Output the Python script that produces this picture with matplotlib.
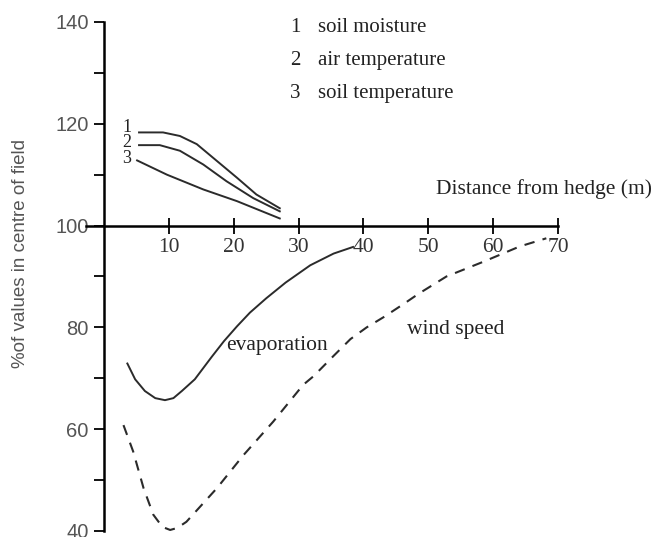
import matplotlib
matplotlib.use("Agg")
import matplotlib.pyplot as plt

# values
soil_moisture_x = [5.4, 9.1, 11.7, 14.3, 17.4, 20.5, 23.5, 27.1]
soil_moisture_y = [118.3, 118.3, 117.6, 116.0, 112.7, 109.4, 106.1, 103.4]
air_temp_x = [5.4, 8.6, 11.7, 15.3, 18.9, 23.0, 27.1]
air_temp_y = [115.8, 115.8, 114.7, 112.0, 108.7, 105.4, 102.8]
soil_temp_x = [5.1, 9.7, 15.3, 20.5, 27.1]
soil_temp_y = [112.8, 110.0, 107.1, 104.8, 101.4]

evap_x = [3.6, 4.8, 6.3, 7.9, 9.4, 10.7, 12.0, 14.0, 16.6, 18.5, 20.5, 22.5,
          25.0, 28.0, 31.8, 35.4, 38.4]
evap_y = [72.9, 69.8, 67.5, 66.1, 65.7, 66.1, 67.5, 69.8, 74.2, 77.3, 80.2, 82.9,
          85.7, 88.8, 92.2, 94.5, 95.8]

wind_x = [3.0, 4.5, 6.1, 7.6, 9.0, 10.2, 11.3, 12.7, 17.4, 21.5, 26.1, 30.7,
          32.3, 35.4, 38.0, 40.5, 43.1, 46.2, 48.5, 52.8, 58.5, 64.1, 68.2]
wind_y = [60.8, 55.6, 48.4, 43.2, 40.8, 40.2, 40.6, 41.8, 48.4, 54.9, 61.5, 68.7,
          70.4, 74.4, 77.7, 80.0, 82.0, 84.6, 86.6, 90.0, 92.9, 95.9, 97.5]

x_ticks = [10, 20, 30, 40, 50, 60, 70]
y_major = [40, 60, 80, 100, 120, 140]
y_minor = [50, 70, 90, 110, 130]

legend_nums = ["1", "2", "3"]
legend_names = ["soil moisture", "air temperature", "soil temperature"]
legend_y = [139.0, 132.5, 125.9]

serif = "Liberation Serif"
sans = "Liberation Sans"
line_col = "#2b2b2b"
text_col = "#222222"

fig = plt.figure(figsize=(6.55, 5.37), dpi=100)
ax = fig.add_axes([0.1588, 0.0112, 0.6931, 0.9479])
ax.set_xlim(0, 70)
ax.set_ylim(40, 140)

ax.plot(soil_moisture_x, soil_moisture_y, color=line_col, lw=1.4)
ax.plot(air_temp_x, air_temp_y, color=line_col, lw=1.4)
ax.plot(soil_temp_x, soil_temp_y, color=line_col, lw=1.4)
ax.plot(evap_x, evap_y, color=line_col, lw=1.4)
ax.plot(wind_x, wind_y, color=line_col, lw=1.5, linestyle=(0, (5, 4)))

# axes: left spine, x axis across y = 100
for s in ["top", "right"]:
    ax.spines[s].set_visible(False)
ax.spines["bottom"].set_position(("data", 100))
ax.spines["bottom"].set_bounds(-2.8, 70)
ax.spines["left"].set_bounds(40, 140)
ax.spines["left"].set_linewidth(1.8)
ax.spines["bottom"].set_linewidth(1.8)

ax.set_xticks(x_ticks)
ax.set_xticklabels([str(t) for t in x_ticks], fontfamily=serif, fontsize=15.5,
                   color="#333333")
ax.tick_params(axis="x", direction="inout", length=12, width=1.3, pad=3)

ax.set_yticks(y_major)
ax.set_yticklabels([str(t) for t in y_major], fontfamily=sans, fontsize=14.5,
                   color="#555555")
ax.set_yticks(y_minor, minor=True)
ax.tick_params(axis="y", which="major", direction="out", length=7, width=1.3, pad=4)
ax.tick_params(axis="y", which="minor", direction="out", length=7, width=1.3)

fig.text(0.031, 1 - 253 / 537, "%of values in centre of field", rotation=90,
         ha="center", va="center", fontfamily=sans, fontsize=13.5, color="#555555")

# legend written as text in the top of the plot
for num, name, ly in zip(legend_nums, legend_names, legend_y):
    ax.text(28.7, ly, num, fontfamily=serif, fontsize=15, color=text_col,
            va="center", ha="left")
    ax.text(33.0, ly, name, fontfamily=serif, fontsize=15, color=text_col,
            va="center", ha="left")

# numbers next to the three upper curves
for lbl, ly in zip(legend_nums, [119.3, 116.3, 113.2]):
    ax.text(3.5, ly, lbl, fontfamily=serif, fontsize=13, color=text_col,
            va="center", ha="center")

ax.text(51.2, 107.1, "Distance from hedge (m)", fontfamily=serif, fontsize=15.5,
        color=text_col, va="center", ha="left")
ax.text(18.9, 76.4, "evaporation", fontfamily=serif, fontsize=15.5,
        color=text_col, va="center", ha="left")
ax.text(46.7, 79.6, "wind speed", fontfamily=serif, fontsize=15.5,
        color=text_col, va="center", ha="left")

fig.savefig("out.png", dpi=100)
